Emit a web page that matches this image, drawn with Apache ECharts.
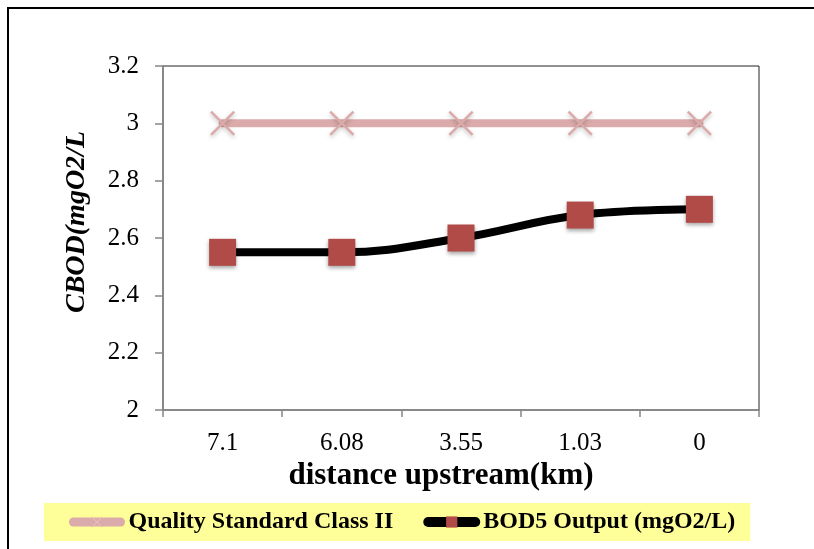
<!DOCTYPE html>
<html>
<head>
<meta charset="utf-8">
<script src="https://cdn.jsdelivr.net/npm/echarts@6/dist/echarts.min.js"></script>
<style>
  html, body { margin: 0; padding: 0; background: #fff; }
  #chart { width: 814px; height: 549px; }
</style>
</head>
<body>
<div id="chart"></div>
<script>
// Distance upstream (km) along the river reach
const distances = ['7.1', '6.08', '3.55', '1.03', '0'];
// Class II water quality standard for CBOD (mgO2/L)
const qualityStandard = [3, 3, 3, 3, 3];
// Modelled BOD5 output (mgO2/L)
const bodOutput = [2.55, 2.55, 2.6, 2.68, 2.7];
// Y axis range and step
const yMin = 2, yMax = 3.2, yStep = 0.2;

const serif = 'Liberation Serif, Times New Roman, serif';
const crossPath = 'path://M0,7 L7,0 L50,43 L93,0 L100,7 L57,50 L100,93 L93,100 L50,57 L7,100 L0,93 L43,50 Z';

const chart = echarts.init(document.getElementById('chart'), null, { renderer: 'canvas' });

chart.setOption({
  animation: false,
  backgroundColor: '#fff',
  graphic: [{
    type: 'rect',
    shape: { x: 8, y: 8, width: 900, height: 700 },
    style: { fill: 'none', stroke: '#000', lineWidth: 2 },
    silent: true,
    z: -1
  }],
  grid: {
    left: 163, top: 66, right: 55, bottom: 139,
    show: true, borderColor: '#222', borderWidth: 1, backgroundColor: '#fff'
  },
  legend: {
    left: 44, top: 503,
    padding: [7, 15, 7, 25],
    backgroundColor: '#FFFF99',
    itemWidth: 47, itemHeight: 14, itemGap: 30,
    textStyle: { fontFamily: serif, fontWeight: 'bold', fontSize: 24, color: '#000', padding: [0, 0, 0, 3] },
    data: [
      {
        name: 'Quality Standard Class II',
        lineStyle: { width: 9, cap: 'round', color: '#DBAAAA' },
        itemStyle: { color: '#E8BDBD' }
      },
      {
        name: 'BOD5 Output (mgO2/L)',
        lineStyle: { width: 10, cap: 'round', color: '#000' },
        itemStyle: { color: '#B14B47' }
      }
    ]
  },
  xAxis: {
    type: 'category',
    data: distances,
    boundaryGap: true,
    name: 'distance upstream(km)',
    nameLocation: 'middle',
    nameGap: 50,
    nameTextStyle: { fontFamily: serif, fontWeight: 'bold', fontSize: 31, color: '#000', padding: [0, 40, 0, 0] },
    axisLine: { lineStyle: { color: '#868686', width: 1.5 } },
    axisTick: { show: true, length: 7, lineStyle: { color: '#868686', width: 1.5 } },
    axisLabel: { fontFamily: serif, fontSize: 25, color: '#000', margin: 21 },
    splitLine: { show: false }
  },
  yAxis: {
    type: 'value',
    min: yMin, max: yMax, interval: yStep,
    name: 'CBOD(mgO2/L',
    nameLocation: 'middle',
    nameGap: 72,
    nameRotate: 90,
    nameTextStyle: { fontFamily: serif, fontWeight: 'bold', fontStyle: 'italic', fontSize: 28, color: '#000', padding: [0, 0, 0, 32] },
    axisLine: { show: true, lineStyle: { color: '#868686', width: 1.5 } },
    axisTick: { show: true, length: 8, lineStyle: { color: '#868686', width: 1.5 } },
    axisLabel: {
      fontFamily: serif, fontSize: 25, color: '#000', margin: 24,
      formatter: v => String(Math.round(v * 10) / 10)
    },
    splitLine: { show: false }
  },
  series: [
    {
      name: 'Quality Standard Class II',
      type: 'line',
      data: qualityStandard,
      symbol: crossPath,
      symbolSize: 25,
      lineStyle: { color: '#DBAAAA', width: 8, cap: 'round' },
      itemStyle: {
        color: '#DDAAAA',
        shadowBlur: 4, shadowColor: 'rgba(0,0,0,0.25)', shadowOffsetY: 2
      },
      z: 2
    },
    {
      name: 'BOD5 Output (mgO2/L)',
      type: 'line',
      data: bodOutput,
      smooth: 0.4,
      symbol: 'rect',
      symbolSize: 27,
      lineStyle: { color: '#000', width: 8, cap: 'round' },
      itemStyle: {
        color: '#B14B47',
        shadowBlur: 4, shadowColor: 'rgba(0,0,0,0.35)', shadowOffsetY: 2
      },
      z: 3
    }
  ]
});
</script>
</body>
</html>
